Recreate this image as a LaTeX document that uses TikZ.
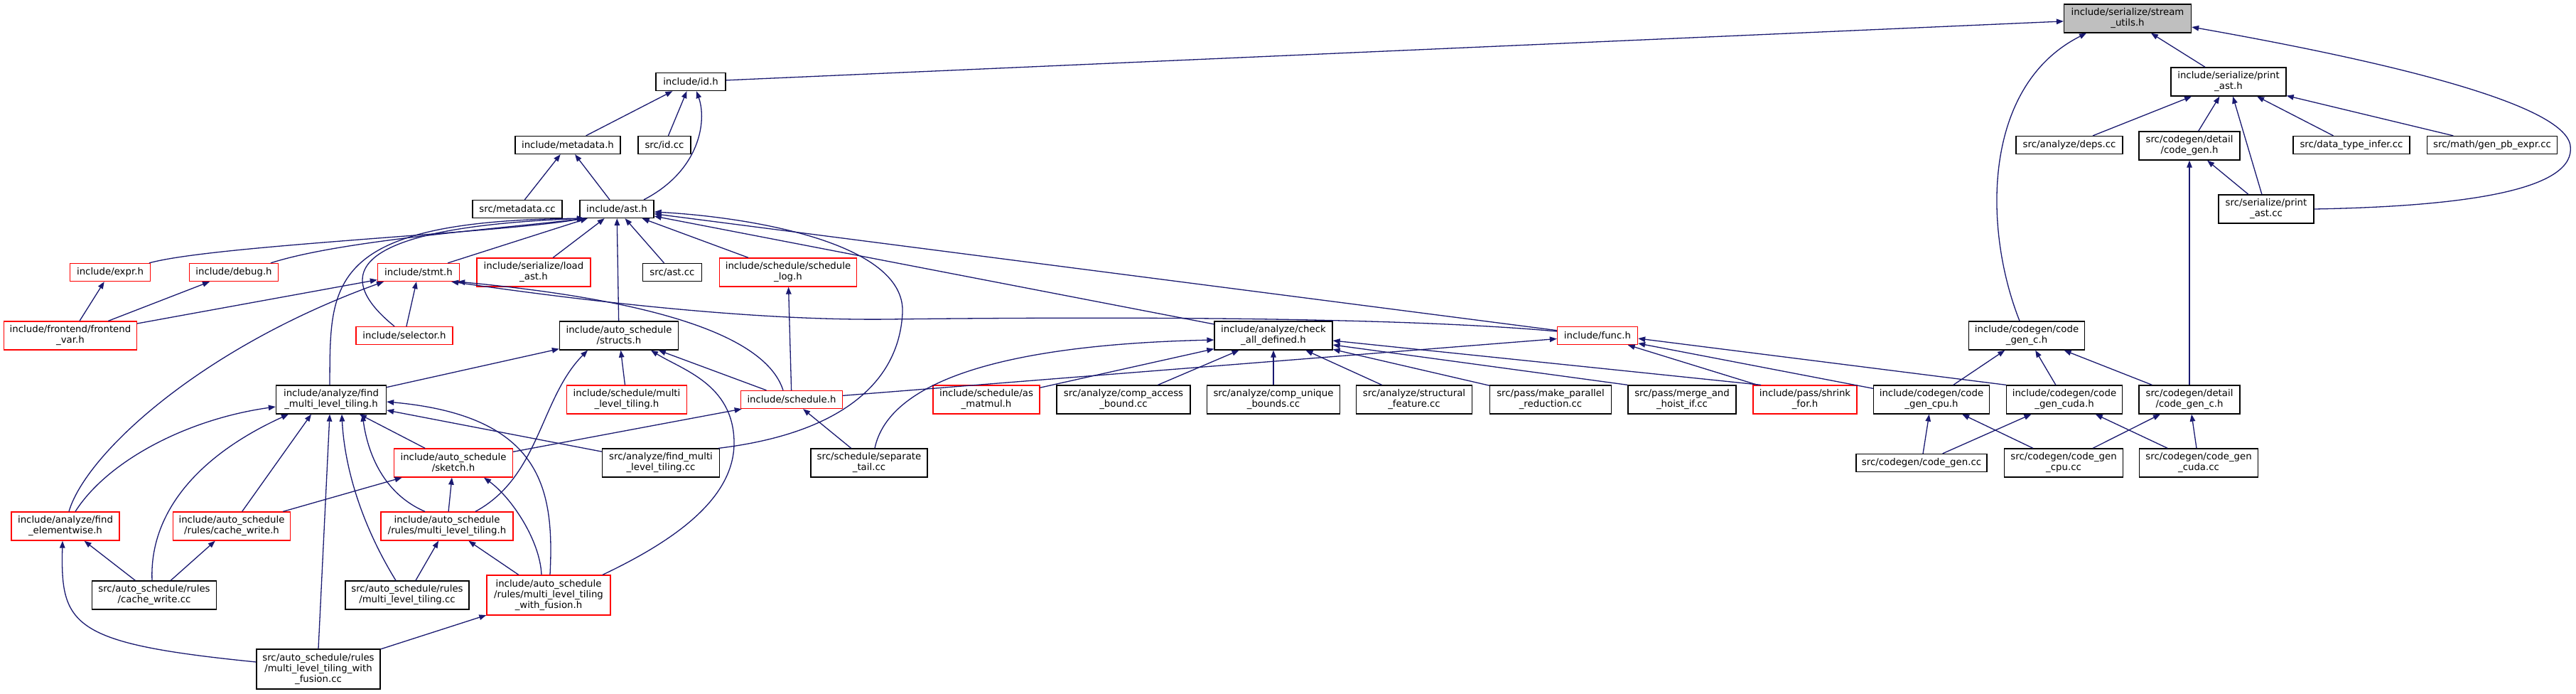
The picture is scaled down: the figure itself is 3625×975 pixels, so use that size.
\documentclass[tikz,border=0pt]{standalone}
\usepackage{fontspec}
\newfontfamily\dxf{DejaVu Sans}
\usetikzlibrary{arrows.meta}
\definecolor{edgec}{RGB}{25,25,112}
\definecolor{rootfill}{RGB}{191,191,191}
\begin{document}
\begin{tikzpicture}[x=1pt,y=-1pt,
  nb/.style={draw=black,fill=white,line width=1.3pt,inner sep=0pt,align=center,text=black,font={\dxf\fontsize{13.3}{15}\selectfont}},
  nr/.style={nb,draw=red},
  bw/.style={minimum width=#1pt},
  hone/.style={minimum height=25pt},
  htwo/.style={minimum height=40pt},
  hthree/.style={minimum height=56pt},
  e/.style={draw=edgec,line width=1.3pt,-{Triangle[length=10pt,width=7.5pt]}}]
\fill[white] (0,0) rectangle (3625,975);
\useasboundingbox (0,0) rectangle (3625,975);
% nodes
\node[nb,bw=179,htwo,fill=rootfill] (root) at (2994,26) {include/serialize/stream\\\_utils.h};
\node[nb,bw=98,hone] (id) at (972,115) {include/id.h};
\node[nb,bw=162,htwo] (printh) at (3136,115) {include/serialize/print\\\_ast.h};
\node[nb,bw=148,hone] (metadata) at (799,204) {include/metadata.h};
\node[nb,bw=74,hone] (idcc) at (935,204) {src/id.cc};
\node[nb,bw=150,hone] (deps) at (2912,204) {src/analyze/deps.cc};
\node[nb,bw=142,htwo] (cgh) at (3081,205) {src/codegen/detail\\/code\_gen.h};
\node[nb,bw=164,hone] (dti) at (3309,204) {src/data\_type\_infer.cc};
\node[nb,bw=183,hone] (gpe) at (3507,204) {src/math/gen\_pb\_expr.cc};
\node[nb,bw=126,hone] (metacc) at (728,294) {src/metadata.cc};
\node[nb,bw=104,hone] (ast) at (868,294) {include/ast.h};
\node[nb,bw=134,htwo] (printcc) at (3189,294) {src/serialize/print\\\_ast.cc};
\node[nr,bw=113,hone] (expr) at (155,383) {include/expr.h};
\node[nr,bw=125,hone] (debug) at (329,383) {include/debug.h};
\node[nr,bw=115,hone] (stmt) at (589,383) {include/stmt.h};
\node[nr,bw=160,htwo] (loadast) at (751,383) {include/serialize/load\\\_ast.h};
\node[nb,bw=83,hone] (astcc) at (946,383) {src/ast.cc};
\node[nr,bw=193,htwo] (slog) at (1109,383) {include/schedule/schedule\\\_log.h};
\node[nr,bw=187,htwo] (fvar) at (99,472) {include/frontend/frontend\\\_var.h};
\node[nr,bw=136,hone] (selector) at (569,472) {include/selector.h};
\node[nb,bw=167,htwo] (structs) at (871,472) {include/auto\_schedule\\/structs.h};
\node[nb,bw=166,htwo] (check) at (1792,472) {include/analyze/check\\\_all\_defined.h};
\node[nr,bw=113,hone] (func) at (2248,472) {include/func.h};
\node[nb,bw=163,htwo] (cgch) at (2852,472) {include/codegen/code\\\_gen\_c.h};
\node[nb,bw=155,htwo] (fmlt) at (466,562) {include/analyze/find\\\_multi\_level\_tiling.h};
\node[nr,bw=169,htwo] (smlt) at (882,562) {include/schedule/multi\\\_level\_tiling.h};
\node[nr,bw=143,hone] (sched) at (1114,562) {include/schedule.h};
\node[nr,bw=150,htwo] (asm) at (1388,562) {include/schedule/as\\\_matmul.h};
\node[nb,bw=188,htwo] (cab) at (1581,562) {src/analyze/comp\_access\\\_bound.cc};
\node[nb,bw=187,htwo] (cub) at (1792,562) {src/analyze/comp\_unique\\\_bounds.cc};
\node[nb,bw=163,htwo] (sf) at (1990,562) {src/analyze/structural\\\_feature.cc};
\node[nb,bw=171,htwo] (mpr) at (2182,562) {src/pass/make\_parallel\\\_reduction.cc};
\node[nb,bw=152,htwo] (mhi) at (2367,562) {src/pass/merge\_and\\\_hoist\_if.cc};
\node[nr,bw=146,htwo] (shr) at (2540,562) {include/pass/shrink\\\_for.h};
\node[nb,bw=163,htwo] (cpu) at (2718,562) {include/codegen/code\\\_gen\_cpu.h};
\node[nb,bw=163,htwo] (cuda) at (2905,562) {include/codegen/code\\\_gen\_cuda.h};
\node[nb,bw=142,htwo] (dcgc) at (3081,562) {src/codegen/detail\\/code\_gen\_c.h};
\node[nr,bw=167,htwo] (sketch) at (638,651) {include/auto\_schedule\\/sketch.h};
\node[nb,bw=165,htwo] (fmltcc) at (930,651) {src/analyze/find\_multi\\\_level\_tiling.cc};
\node[nb,bw=164,htwo] (septail) at (1223,651) {src/schedule/separate\\\_tail.cc};
\node[nb,bw=184,hone] (cgcc) at (2704,651) {src/codegen/code\_gen.cc};
\node[nb,bw=167,htwo] (cpucc) at (2904,651) {src/codegen/code\_gen\\\_cpu.cc};
\node[nb,bw=167,htwo] (cudacc) at (3094,651) {src/codegen/code\_gen\\\_cuda.cc};
\node[nr,bw=152,htwo] (felem) at (92,740) {include/analyze/find\\\_elementwise.h};
\node[nr,bw=165,htwo] (cwh) at (326,740) {include/auto\_schedule\\/rules/cache\_write.h};
\node[nr,bw=186,htwo] (rmlt) at (629,740) {include/auto\_schedule\\/rules/multi\_level\_tiling.h};
\node[nb,bw=175,htwo] (cwcc) at (217,837) {src/auto\_schedule/rules\\/cache\_write.cc};
\node[nb,bw=174,htwo] (mltcc) at (573,837) {src/auto\_schedule/rules\\/multi\_level\_tiling.cc};
\node[nr,bw=174,hthree] (wfh) at (772,837) {include/auto\_schedule\\/rules/multi\_level\_tiling\\\_with\_fusion.h};
\node[nb,bw=174,hthree] (wfcc) at (448,941) {src/auto\_schedule/rules\\/multi\_level\_tiling\_with\\\_fusion.cc};
% edges to root
\draw[e] (id) -- (root);
\draw[e] (printh) -- (root);
\draw[e] (printcc.east) .. controls (3480,290) and (3625,265) .. (3617,205) .. controls (3609,145) and (3350,85) .. ([yshift=-12pt]root.east);
\draw[e] ([xshift=-10pt]cgch.north) .. controls (2790,320) and (2790,120) .. ([xshift=-58pt]root.south);
% id
\draw[e] (metadata) -- (id);
\draw[e] (idcc) -- (id);
\draw[e] ([xshift=38pt]ast.north) .. controls (985,240) and (995,170) .. ([xshift=8pt]id.south);
\draw[e] (metacc) -- (metadata);
\draw[e] (ast) -- (metadata);
% print_ast
\draw[e] (deps) -- (printh);
\draw[e] (cgh) -- (printh);
\draw[e] (printcc) -- (printh);
\draw[e] (dti) -- (printh);
\draw[e] (gpe) -- (printh);
\draw[e] (printcc) -- (cgh);
\draw[e] (dcgc) -- (cgh);
% codegen
\draw[e] (cpu) -- (cgch);
\draw[e] (cuda) -- (cgch);
\draw[e] (dcgc) -- (cgch);
\draw[e] (cgcc) -- (cpu);
\draw[e] (cgcc) -- (cuda);
\draw[e] (cpucc) -- (cpu);
\draw[e] (cpucc) -- (dcgc);
\draw[e] (cudacc) -- (cuda);
\draw[e] (cudacc) -- (dcgc);
% func
\draw[e] (cpu) -- (func);
\draw[e] (cuda.north west) -- ([yshift=-4pt]func.east);
\draw[e] (shr) -- (func);
\draw[e] (sched) -- (func);
% check
\draw[e] ([xshift=-62pt]shr.north) -- ([yshift=-7pt]check.east);
\draw[e] (mhi.north west) -- ([yshift=-13pt]check.east);
\draw[e] (mpr) -- (check);
\draw[e] (sf) -- (check);
\draw[e] (cub) -- (check);
\draw[e] (cab) -- (check);
\draw[e] (asm) -- (check);
\draw[e] ([xshift=8pt]septail.north) .. controls (1250,540) and (1400,485) .. ([yshift=-6pt]check.west);
% ast
\draw[e] (check) -- (ast);
\draw[e] (func) -- (ast);
\draw[e] (stmt) -- (ast);
\draw[e] ([xshift=55pt]expr.north) .. controls (300,345) and (700,328) .. ([xshift=-46pt]ast.south);
\draw[e] ([xshift=52pt]debug.north) .. controls (480,338) and (700,322) .. ([xshift=-44pt]ast.south);
\draw[e] (loadast) -- (ast);
\draw[e] (structs) -- (ast);
\draw[e] (astcc) -- (ast);
\draw[e] (slog) -- (ast);
\draw[e] ([xshift=-14pt]selector.north) .. controls (470,390) and (480,320) .. ([xshift=-46pt]ast.south);
\draw[e] ([xshift=-2pt]fmlt.north) .. controls (465,400) and (455,310) .. ([xshift=-46pt]ast.south);
\draw[e] ([xshift=-2pt]fmltcc.north east) .. controls (1180,610) and (1265,540) .. (1270,440) .. controls (1275,340) and (1050,305) .. ([yshift=-4pt]ast.east);
% structs
\draw[e] (fmlt) -- (structs);
\draw[e] (smlt) -- (structs);
\draw[e] (sched) -- (structs);
\draw[e] ([xshift=40pt]rmlt.north) .. controls (760,670) and (760,560) .. ([xshift=-44pt]structs.south);
\draw[e] ([xshift=76pt]wfh.north) .. controls (950,760) and (1035,700) .. (1033,620) .. controls (1031,540) and (960,520) .. ([xshift=45pt]structs.south);
% schedule.h
\draw[e] (sched) -- (slog);
\draw[e] ([xshift=-12pt]sched.north) .. controls (1080,480) and (950,425) .. ([xshift=-3pt]stmt.south east);
\draw[e] ([yshift=6pt]func.west) .. controls (1950,444) and (1500,446) .. (1250,449) .. controls (1050,451.4) and (800,420) .. ([xshift=-12pt]stmt.south east);
\draw[e] (sketch) -- (sched);
\draw[e] (septail) -- (sched);
% stmt & others
\draw[e] (fvar) -- (expr);
\draw[e] (fvar) -- (debug);
\draw[e] (fvar) -- (stmt);
\draw[e] (selector) -- (stmt);
\draw[e] ([xshift=5pt]felem.north) .. controls (120,640) and (280,490) .. ([xshift=-49pt]stmt.south);
\draw[e] ([xshift=14pt]felem.north) .. controls (150,650) and (260,590) .. ([yshift=-10pt]fmlt.west);
\draw[e] (cwcc) -- (felem);
\draw[e] ([yshift=10pt]wfcc.west) .. controls (100,905) and (85,880) .. ([xshift=-4pt]felem.south);
\draw[e] (cwcc) -- (cwh);
\draw[e] ([xshift=-3pt]cwcc.north) .. controls (210,720) and (280,640) .. ([xshift=-60pt]fmlt.south);
\draw[e] (cwh) -- ([xshift=-28pt]fmlt.south);
\draw[e] (cwh) -- (sketch);
\draw[e] ([xshift=-31pt]rmlt.north) .. controls (530,690) and (515,620) .. ([xshift=44pt]fmlt.south);
\draw[e] (sketch) -- (fmlt);
\draw[e] ([xshift=-16pt]mltcc.north) .. controls (510,740) and (485,660) .. ([xshift=15pt]fmlt.south);
\draw[e] (wfcc.north) -- ([xshift=-2pt]fmlt.south);
\draw[e] (fmltcc) -- (fmlt);
\draw[e] ([xshift=2pt]wfh.north) .. controls (780,690) and (765,585) .. ([yshift=-3pt]fmlt.east);
\draw[e] (rmlt) -- (sketch);
\draw[e] ([xshift=-10pt]wfh.north) .. controls (760,760) and (720,700) .. ([xshift=43pt]sketch.south);
\draw[e] (wfh) -- (rmlt);
\draw[e] (mltcc) -- (rmlt);
\draw[e] (wfcc) -- (wfh);
\end{tikzpicture}
\end{document}
